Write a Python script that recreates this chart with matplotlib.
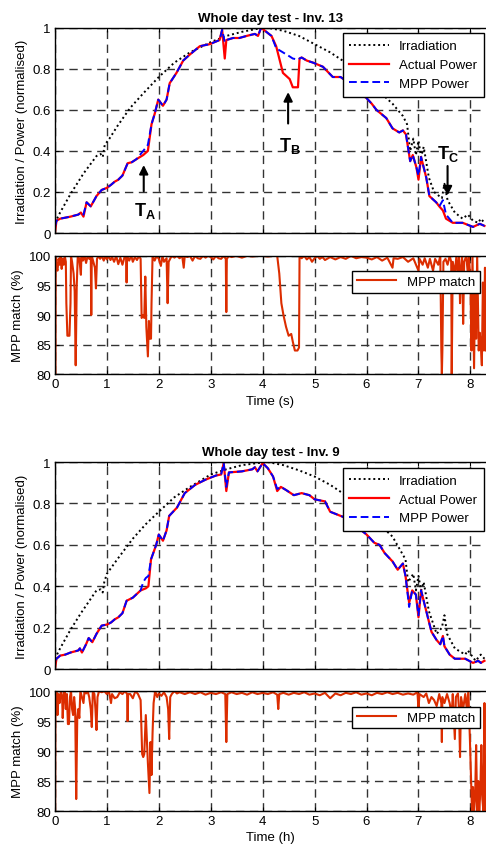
import numpy as np
import matplotlib.pyplot as plt

plt.rcParams['font.family'] = ['Liberation Sans', 'DejaVu Sans']
plt.rcParams['font.size'] = 9.5
plt.rcParams['mathtext.fontset'] = 'custom'
plt.rcParams['mathtext.rm'] = 'Liberation Sans'
plt.rcParams['mathtext.bf'] = 'Liberation Sans:bold'

# Inverter 13 - normalised irradiation and power
t_irr13 = [0, 0.1, 0.3, 0.55, 0.8, 0.88, 0.92, 0.96, 1.05, 1.2, 1.45, 1.7, 2.0, 2.3, 2.6, 3.0, 3.3, 3.6, 3.9, 4.1,
           4.4, 4.7, 5.0, 5.3, 5.6, 5.9, 6.2, 6.5, 6.7, 6.78, 6.84, 6.9, 6.95, 7.0, 7.05, 7.1, 7.2, 7.3, 7.45,
           7.5, 7.56, 7.7, 7.85, 7.95, 8.05, 8.15, 8.2, 8.27]
irr13 = [0.05, 0.1, 0.19, 0.29, 0.375, 0.385, 0.37, 0.43, 0.46, 0.52, 0.61, 0.68, 0.76, 0.83, 0.88, 0.93, 0.96, 0.98,
         0.995, 1.0, 0.985, 0.96, 0.92, 0.88, 0.83, 0.77, 0.70, 0.63, 0.57, 0.53, 0.40, 0.46, 0.38, 0.45, 0.37, 0.42,
         0.27, 0.20, 0.17, 0.24, 0.16, 0.10, 0.07, 0.09, 0.06, 0.05, 0.07, 0.05]

t_pow13 = [0, 0.03, 0.1, 0.2, 0.3, 0.45, 0.5, 0.55, 0.61, 0.69, 0.8, 0.9, 1.0, 1.08, 1.15, 1.22, 1.3, 1.4, 1.48,
           1.57, 1.7, 1.79, 1.86, 1.92, 1.99, 2.08, 2.15, 2.21, 2.34, 2.47, 2.6, 2.79, 2.98, 3.17, 3.22, 3.27,
           3.3, 3.43, 3.55, 3.69, 3.85, 3.91, 3.97, 4.07, 4.17, 4.26, 4.39, 4.52, 4.58, 4.68, 4.71, 4.75, 4.85,
           4.97, 5.16, 5.35, 5.5, 5.61, 5.8, 5.99, 6.1, 6.19, 6.38, 6.5, 6.63, 6.7, 6.76, 6.84, 6.89, 6.96, 7.0,
           7.05, 7.15, 7.21, 7.34, 7.4, 7.47, 7.53, 7.66, 7.85, 7.95, 8.05, 8.18, 8.27]
act13 = [0.0, 0.06, 0.07, 0.075, 0.08, 0.09, 0.10, 0.08, 0.15, 0.13, 0.18, 0.21, 0.22, 0.235, 0.25, 0.26, 0.28, 0.34,
         0.345, 0.36, 0.38, 0.40, 0.53, 0.58, 0.65, 0.62, 0.65, 0.73, 0.78, 0.84, 0.87, 0.91, 0.92, 0.94, 0.99, 0.85,
         0.94, 0.95, 0.95, 0.96, 0.97, 0.96, 1.0, 0.98, 0.96, 0.91, 0.78, 0.75, 0.71, 0.71, 0.85, 0.855, 0.84, 0.83,
         0.81, 0.76, 0.76, 0.74, 0.68, 0.66, 0.63, 0.60, 0.56, 0.51, 0.49, 0.50, 0.48, 0.35, 0.38, 0.32, 0.26,
         0.37, 0.27, 0.18, 0.15, 0.13, 0.11, 0.07, 0.05, 0.05, 0.04, 0.03, 0.045, 0.035]
mpp13 = [0.03, 0.06, 0.07, 0.075, 0.08, 0.09, 0.10, 0.09, 0.15, 0.13, 0.18, 0.21, 0.22, 0.235, 0.25, 0.26, 0.28, 0.34,
         0.345, 0.36, 0.40, 0.43, 0.53, 0.58, 0.65, 0.62, 0.65, 0.73, 0.78, 0.84, 0.87, 0.91, 0.92, 0.94, 0.99, 0.93,
         0.94, 0.95, 0.95, 0.96, 0.97, 0.96, 1.0, 0.98, 0.96, 0.90, 0.88, 0.86, 0.85, 0.845, 0.85, 0.855, 0.84, 0.83,
         0.81, 0.76, 0.76, 0.74, 0.68, 0.66, 0.63, 0.60, 0.56, 0.51, 0.49, 0.50, 0.48, 0.35, 0.38, 0.32, 0.28,
         0.37, 0.27, 0.18, 0.15, 0.13, 0.16, 0.09, 0.05, 0.05, 0.04, 0.03, 0.045, 0.035]

t_m13 = [0, 0.01, 0.015, 0.03, 0.05, 0.07, 0.09, 0.11, 0.13, 0.15, 0.17, 0.19, 0.21, 0.22, 0.24, 0.28, 0.3, 0.31,
         0.33, 0.36, 0.38, 0.4, 0.42, 0.44, 0.47, 0.5, 0.51, 0.54, 0.57, 0.6, 0.63, 0.66, 0.69, 0.7, 0.71, 0.74,
         0.77, 0.79, 0.81, 0.84, 0.87, 0.9, 0.94, 0.97, 1.0, 1.03, 1.07, 1.1, 1.14, 1.18, 1.22, 1.26, 1.3, 1.34,
         1.37, 1.38, 1.39, 1.43, 1.47, 1.5, 1.54, 1.58, 1.62, 1.65, 1.67, 1.7, 1.72, 1.74, 1.76, 1.79, 1.81, 1.83,
         1.85, 1.86, 1.88, 1.92, 1.96, 2.0, 2.04, 2.07, 2.1, 2.15, 2.17, 2.19, 2.23, 2.27, 2.3, 2.35, 2.4, 2.45,
         2.48, 2.5, 2.55, 2.6, 2.65, 2.7, 2.75, 2.8, 2.85, 2.9, 2.95, 3.0, 3.05, 3.1, 3.15, 3.2, 3.25, 3.29, 3.3,
         3.31, 3.35, 3.4, 3.5, 3.6, 3.7, 3.8, 3.9, 4.0, 4.1, 4.2, 4.28, 4.32, 4.36, 4.4, 4.45, 4.5, 4.55, 4.58,
         4.62, 4.67, 4.7, 4.71, 4.75, 4.8, 4.85, 4.9, 4.95, 5.0, 5.05, 5.1, 5.15, 5.2, 5.3, 5.4, 5.5, 5.6, 5.7,
         5.8, 5.9, 6.0, 6.1, 6.2, 6.3, 6.4, 6.5, 6.52, 6.6, 6.7, 6.8, 6.9, 7.0, 7.02, 7.08, 7.12, 7.18, 7.22,
         7.28, 7.32, 7.38, 7.42, 7.44, 7.45, 7.46, 7.48, 7.52, 7.56, 7.6, 7.63, 7.64, 7.66, 7.7, 7.73, 7.76,
         7.78, 7.8, 7.82, 7.84, 7.86, 7.88, 7.92, 7.95, 7.97, 8.0, 8.02, 8.04, 8.07, 8.09, 8.11, 8.13, 8.16,
         8.18, 8.2, 8.22, 8.24, 8.26, 8.28, 8.3]
m13 = [80, 80, 100, 98, 97.5, 99.5, 98.5, 100, 97.8, 99.5, 98.5, 100, 99, 92, 86.5, 86.5, 92, 100,
       99, 97, 94, 81.5, 95, 100, 99.5, 96.8, 100, 99.2, 100, 98.8, 100, 99.5, 100, 90, 100, 99,
       98, 94.5, 99.5, 100, 99.5, 100, 99.2, 100, 99.4, 100, 99.3, 99.8, 99, 100, 98.6, 99.7, 98.5, 99.8,
       100, 95.5, 100, 99.2, 100, 99, 99.8, 99.3, 100, 99.5, 89.5, 90, 89.5, 96.5, 88, 83, 89, 86,
       86, 92, 100, 99.2, 100, 99.5, 98.3, 100, 99, 99.6, 92, 99, 99.7, 100, 99.7, 100, 99.6, 100,
       98, 100, 99.8, 100, 99.2, 100, 99.6, 99.5, 100, 99.7, 100, 99.8, 99.4, 100, 99.6, 99.5, 100, 99.5, 90.5,
       99.5, 100, 99.8, 100, 99.7, 100, 99.9, 100, 100, 99.9, 100, 100, 97, 92, 90, 88, 86.5, 86.8, 85.5,
       84, 84, 84.5, 100, 99.6, 100, 99.4, 99.8, 99, 99.6, 100, 99.5, 99.8, 99.3, 99.8, 99.4, 99.8, 99.5, 100,
       99.6, 99.8, 99.7, 99.4, 99.8, 99.2, 99.7, 98, 99.6, 99.5, 99.8, 99, 99.6, 97.5, 99.5, 98.5, 99.6, 98, 99.5,
       97.5, 99.5, 98.5, 100, 84, 80, 84, 99, 99.5, 98.5, 100, 99, 80, 99, 97, 100, 96,
       100, 92, 98, 100, 88.5, 99, 100, 97, 100, 96, 84, 100, 81, 95, 86, 100, 84,
       87, 85, 81.5, 95.5, 84, 98, 84]

# Inverter 9
t_irr9 = [0, 0.1, 0.3, 0.5, 0.8, 0.88, 0.92, 0.95, 1.0, 1.2, 1.5, 1.75, 2.0, 2.3, 2.6, 3.0, 3.3, 3.6, 3.9, 4.1,
          4.4, 4.7, 5.0, 5.3, 5.6, 5.9, 6.2, 6.5, 6.75, 6.8, 6.9, 6.95, 7.0, 7.05, 7.1, 7.2, 7.35, 7.45, 7.5,
          7.55, 7.7, 7.9, 7.95, 8.1, 8.2, 8.27]
irr9 = [0.05, 0.1, 0.19, 0.27, 0.38, 0.385, 0.37, 0.42, 0.46, 0.53, 0.63, 0.70, 0.76, 0.83, 0.88, 0.94, 0.965, 0.985,
        0.995, 1.0, 0.985, 0.96, 0.93, 0.89, 0.84, 0.78, 0.71, 0.64, 0.53, 0.42, 0.46, 0.38, 0.45, 0.38, 0.42, 0.28,
        0.17, 0.20, 0.26, 0.17, 0.10, 0.07, 0.09, 0.04, 0.07, 0.05]

t_pow9 = [0, 0.03, 0.1, 0.2, 0.3, 0.45, 0.48, 0.52, 0.6, 0.65, 0.72, 0.8, 0.9, 1.0, 1.08, 1.15, 1.22, 1.3, 1.38,
          1.5, 1.65, 1.7, 1.75, 1.8, 1.85, 1.95, 2.0, 2.08, 2.15, 2.2, 2.35, 2.5, 2.7, 2.9, 3.1, 3.2, 3.25,
          3.3, 3.35, 3.6, 3.8, 3.85, 3.9, 4.0, 4.1, 4.2, 4.28, 4.35, 4.45, 4.6, 4.75, 4.9, 5.0, 5.2, 5.3, 5.5,
          5.7, 5.85, 6.0, 6.15, 6.25, 6.35, 6.5, 6.6, 6.7, 6.75, 6.82, 6.88, 6.95, 7.0, 7.05, 7.15, 7.25, 7.35,
          7.42, 7.47, 7.5, 7.6, 7.7, 7.9, 8.05, 8.15, 8.2, 8.27]
act9 = [0.0, 0.05, 0.065, 0.07, 0.08, 0.09, 0.10, 0.08, 0.12, 0.15, 0.13, 0.17, 0.21, 0.215, 0.225, 0.24, 0.25, 0.27,
        0.33, 0.345, 0.38, 0.385, 0.39, 0.40, 0.53, 0.60, 0.65, 0.62, 0.67, 0.74, 0.78, 0.85, 0.89, 0.915, 0.935,
        0.94, 0.995, 0.86, 0.95, 0.955, 0.965, 0.975, 0.955, 0.995, 0.97, 0.93, 0.86, 0.88, 0.865, 0.84, 0.85,
        0.84, 0.82, 0.81, 0.76, 0.74, 0.72, 0.68, 0.65, 0.61, 0.60, 0.56, 0.52, 0.48, 0.51, 0.45, 0.32, 0.38,
        0.36, 0.25, 0.38, 0.28, 0.18, 0.14, 0.12, 0.16, 0.11, 0.07, 0.05, 0.05, 0.03, 0.04, 0.03, 0.04]
mpp9 = [0.04, 0.05, 0.065, 0.07, 0.08, 0.09, 0.10, 0.08, 0.12, 0.15, 0.13, 0.17, 0.21, 0.215, 0.225, 0.24, 0.25, 0.27,
        0.33, 0.345, 0.38, 0.42, 0.44, 0.45, 0.53, 0.60, 0.65, 0.62, 0.67, 0.74, 0.78, 0.85, 0.89, 0.915, 0.935,
        0.94, 0.995, 0.88, 0.95, 0.955, 0.965, 0.975, 0.955, 0.995, 0.97, 0.93, 0.87, 0.88, 0.865, 0.84, 0.85,
        0.84, 0.82, 0.81, 0.76, 0.74, 0.72, 0.68, 0.65, 0.61, 0.60, 0.56, 0.52, 0.48, 0.51, 0.45, 0.30, 0.38,
        0.36, 0.26, 0.38, 0.28, 0.18, 0.14, 0.12, 0.16, 0.11, 0.07, 0.05, 0.05, 0.03, 0.04, 0.03, 0.04]

t_m9 = [0, 0.005, 0.01, 0.03, 0.05, 0.07, 0.09, 0.1, 0.12, 0.14, 0.15, 0.17, 0.19, 0.21, 0.23, 0.25, 0.27, 0.29,
        0.31, 0.33, 0.35, 0.37, 0.39, 0.41, 0.43, 0.45, 0.47, 0.49, 0.52, 0.55, 0.57, 0.6, 0.63, 0.66, 0.69,
        0.71, 0.73, 0.76, 0.78, 0.8, 0.82, 0.85, 0.9, 0.95, 1.0, 1.04, 1.08, 1.1, 1.15, 1.2, 1.25, 1.3, 1.35,
        1.39, 1.4, 1.41, 1.45, 1.5, 1.55, 1.6, 1.65, 1.68, 1.7, 1.72, 1.75, 1.77, 1.79, 1.82, 1.84, 1.86,
        1.88, 1.9, 1.93, 1.97, 2.0, 2.05, 2.1, 2.15, 2.18, 2.2, 2.22, 2.25, 2.3, 2.35, 2.4, 2.5, 2.6, 2.7,
        2.8, 2.9, 3.0, 3.1, 3.2, 3.28, 3.3, 3.32, 3.4, 3.5, 3.6, 3.7, 3.8, 3.9, 4.0, 4.1, 4.2, 4.28, 4.3,
        4.32, 4.4, 4.5, 4.6, 4.7, 4.8, 4.9, 5.0, 5.1, 5.2, 5.3, 5.4, 5.5, 5.6, 5.7, 5.8, 5.9, 6.0, 6.1, 6.2,
        6.3, 6.4, 6.5, 6.6, 6.7, 6.8, 6.9, 6.98, 7.0, 7.02, 7.1, 7.15, 7.2, 7.25, 7.3, 7.35, 7.4, 7.44, 7.45,
        7.46, 7.5, 7.55, 7.6, 7.64, 7.66, 7.7, 7.72, 7.76, 7.78, 7.8, 7.82, 7.86, 7.9, 7.93, 7.96, 7.99,
        8.01, 8.03, 8.05, 8.07, 8.09, 8.11, 8.13, 8.15, 8.17, 8.19, 8.21, 8.23, 8.25, 8.27, 8.29]
m9 = [80, 80, 99, 100, 96, 99.5, 98, 99, 100, 98.5, 95.5, 99.5, 100, 97, 99.5, 94.5, 94.5, 99,
      100, 97, 96, 99, 97, 82, 95.5, 97, 95.5, 100, 99, 98, 100, 99.6, 100, 99, 97,
      94, 100, 99.5, 97, 93.5, 99, 100, 99.8, 100, 99.5, 100, 98, 99.5, 98.8, 99, 99.8, 99.5, 100,
      99.5, 95, 99.5, 99.5, 98.8, 100, 99.5, 98.5, 89.5, 89, 89.5, 96, 92, 88, 83, 91.5, 86,
      93, 98, 100, 99, 99.6, 99.2, 99.8, 99, 97, 92, 99, 99.5, 100, 99.6, 99.8, 99.5, 99.8, 99.5,
      99.8, 99.4, 99.7, 99.5, 99.8, 99.5, 91.5, 99.5, 99.8, 99.5, 99.7, 99.4, 99.8, 99.5, 99.7, 99.5, 99.8, 99.4, 97,
      99.5, 99.7, 99.4, 99.7, 99.5, 99.8, 99.4, 99.6, 99.3, 99.7, 98.8, 99.6, 99.3, 99.7, 99.5, 99.8, 99.4, 99.6, 99.3, 99.7,
      99.5, 99.8, 99.5, 99.7, 99.4, 99.6, 99.4, 99.8, 97, 99.5, 99, 99.6, 98, 99, 98.5, 97.5, 99.5, 98, 91.5,
      99, 98, 99.5, 98, 96, 99.5, 92, 99, 99.6, 97, 89, 99, 97, 99.5, 97, 100, 92,
      86, 80, 84, 80, 82, 91, 80, 85, 80, 83, 91, 82, 80, 98, 80]

grid_kw = dict(color='#333333', linestyle=(0, (6, 4)), linewidth=1.0)


def style(ax, ylim, yticks, yticklabels):
    ax.set_xlim(0, 8.3)
    ax.set_ylim(*ylim)
    ax.set_xticks(range(0, 9))
    ax.set_yticks(yticks)
    ax.set_yticklabels(yticklabels)
    ax.grid(True, **grid_kw)
    ax.tick_params(direction='in', length=3, top=True, right=False, labelsize=9.5, pad=3)
    ax.spines['right'].set_visible(False)
    for s in ['left', 'top', 'bottom']:
        ax.spines[s].set_linewidth(1.0)


def power_panel(ax, t_irr, irr, t_pow, act, mpp, title):
    ax.plot(t_irr, irr, color='black', linestyle=(0, (1, 1.5)), linewidth=1.4, label='Irradiation')
    ax.plot(t_pow, act, color='red', linewidth=1.6, label='Actual Power')
    ax.plot(t_pow, mpp, color='blue', linestyle=(0, (4, 2)), linewidth=1.4, label='MPP Power')
    style(ax, (0, 1), [0, 0.2, 0.4, 0.6, 0.8, 1], ['0', '0.2', '0.4', '0.6', '0.8', '1'])
    ax.set_xticklabels([])
    ax.set_title(title, fontsize=9.5, fontweight='bold', pad=5)
    ax.set_ylabel('Irradiation / Power (normalised)', labelpad=3)
    leg = ax.legend(loc='upper right', bbox_to_anchor=(0.995, 0.972), frameon=True, fancybox=False,
                    edgecolor='black', framealpha=1, fontsize=9.5, handlelength=3.0,
                    borderpad=0.5, labelspacing=0.5, borderaxespad=0)
    leg.get_frame().set_linewidth(1.0)


def match_panel(ax, t, m, xlabel):
    ax.plot(t, m, color='#dc2d00', linewidth=1.5, label='MPP match')
    style(ax, (80, 100), [80, 85, 90, 95, 100], ['80', '85', '90', '95', '100'])
    ax.set_xticklabels([str(i) for i in range(9)])
    ax.set_xlabel(xlabel, labelpad=3)
    ax.set_ylabel('MPP match (%)', labelpad=3)
    leg = ax.legend(loc='upper right', bbox_to_anchor=(0.985, 0.87), frameon=True, fancybox=False,
                    edgecolor='black', framealpha=1, fontsize=9.5, handlelength=3.0,
                    borderpad=0.35, borderaxespad=0)
    leg.get_frame().set_linewidth(1.0)


fig = plt.figure(figsize=(4.86, 8.45), dpi=100)
L, W = 0.113, 0.887
ax1 = fig.add_axes([L, 0.723, W, 0.243])
ax2 = fig.add_axes([L, 0.556, W, 0.140])
ax3 = fig.add_axes([L, 0.207, W, 0.245])
ax4 = fig.add_axes([L, 0.039, W, 0.142])

power_panel(ax1, t_irr13, irr13, t_pow13, act13, mpp13, 'Whole day test - Inv. 13')
match_panel(ax2, t_m13, m13, 'Time (s)')
power_panel(ax3, t_irr9, irr9, t_pow9, act9, mpp9, 'Whole day test - Inv. 9')
match_panel(ax4, t_m9, m9, 'Time (h)')

# event markers on the Inv. 13 power plot
arrow = dict(arrowstyle='-|>', color='black', lw=1.5, mutation_scale=13)
ax1.annotate('', xy=(1.71, 0.345), xytext=(1.71, 0.19), arrowprops=arrow)
ax1.text(1.73, 0.11, r'$\mathbf{T_A}$', ha='center', va='center', fontsize=13)
ax1.annotate('', xy=(4.49, 0.70), xytext=(4.49, 0.52), arrowprops=arrow)
ax1.text(4.52, 0.43, r'$\mathbf{T_B}$', ha='center', va='center', fontsize=13)
ax1.annotate('', xy=(7.56, 0.17), xytext=(7.56, 0.34), arrowprops=arrow)
ax1.text(7.56, 0.39, r'$\mathbf{T_C}$', ha='center', va='center', fontsize=13)

fig.savefig('out.png', dpi=100)
